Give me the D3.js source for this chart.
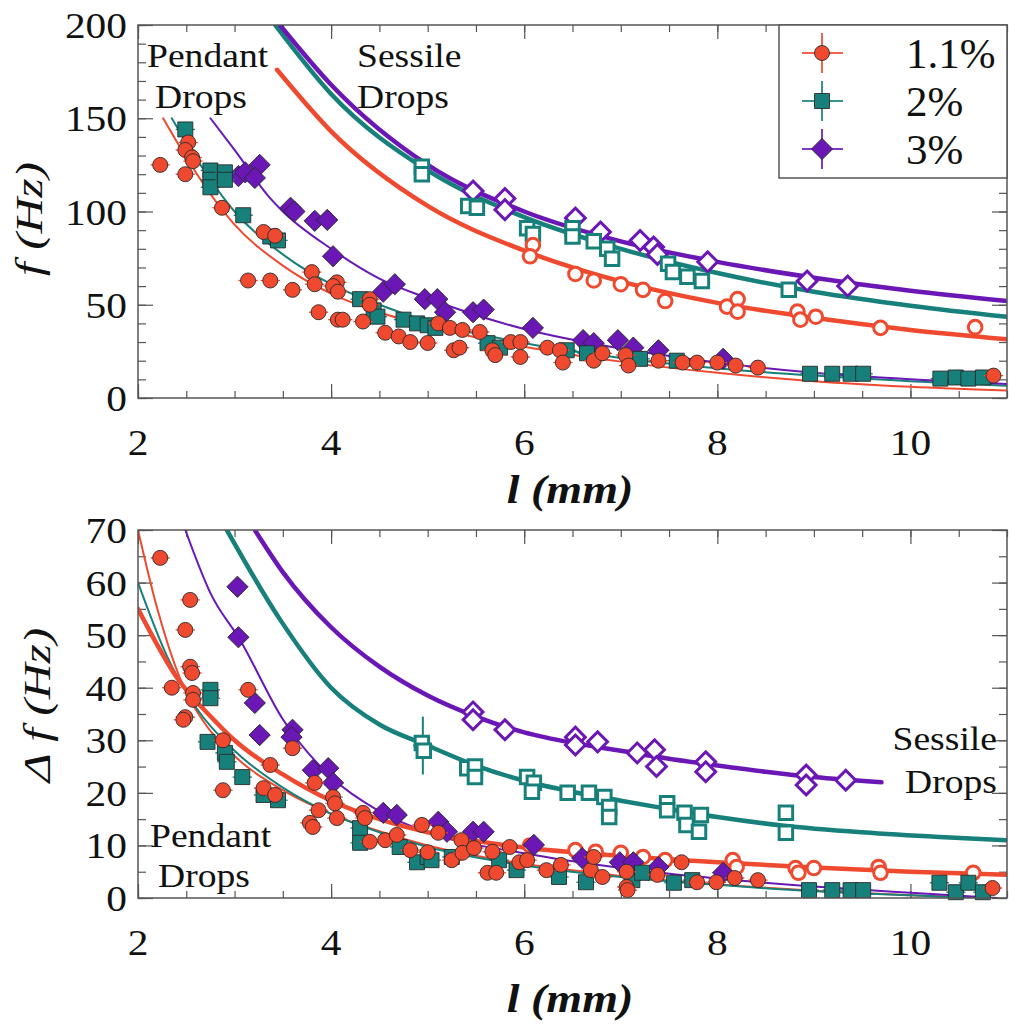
<!DOCTYPE html>
<html>
<head>
<meta charset="utf-8">
<script src="https://cdn.jsdelivr.net/npm/d3@7/dist/d3.min.js"></script>
<style>
body { margin: 0; background: #fff; }
</style>
</head>
<body>
<svg id="chart" width="1009" height="1027"></svg>
<script>
var RED = '#ef4a2f', TEAL = '#17807a', PURPLE = '#6a17b6';
var FONT = '"Liberation Serif", "Times New Roman", Times, serif';

var xTickLabels = [2, 4, 6, 8, 10];
var topTickLabels = [0, 50, 100, 150, 200];
var botTickLabels = [0, 10, 20, 30, 40, 50, 60, 70];
var legendLabels = ['1.1%', '2%', '3%'];

// ---- top panel: f (Hz) ----
var topRedPendant = [[2.23,125],[2.52,137],[2.49,133],[2.56,129],[2.57,127],[2.49,120],[2.87,102],[3.3,89],[3.42,87],[3.14,63],[3.37,63],[3.6,58],[3.8,67.5],[3.83,61],[4.06,62],[4.02,60],[4.07,57],[4.4,53],[4.4,50],[3.87,46],[4.07,42],[4.12,42],[4.33,41],[4.56,35],[4.7,33],[4.82,30],[5.0,29.5],[5.11,40],[5.23,37.6],[5.36,36.5],[5.54,35.4],[5.27,25.6],[5.33,27],[5.67,25.6],[5.7,23],[5.86,30],[5.96,30],[5.96,22],[6.24,27],[6.37,25.6],[6.4,19],[6.72,20],[6.81,24],[7.05,23],[7.08,17.4],[7.39,20],[7.64,19],[7.79,19],[8.0,19],[8.19,17.4],[8.42,16.3],[10.86,12]];
var topTealPendant = [[2.49,144],[2.75,122],[2.75,117],[2.75,113],[2.9,121],[2.9,117],[3.09,98],[3.37,86.6],[3.45,84.5],[4.3,53],[4.44,47],[4.48,43.6],[4.75,42],[4.89,40],[5.0,39],[5.08,37.6],[5.62,29.4],[5.75,27],[6.44,25.6],[6.65,24],[7.2,21],[7.58,20],[8.96,13],[9.19,13],[9.38,13],[9.51,13],[10.31,10.4],[10.47,11],[10.6,10.4],[10.75,11]];
var topPurplePendant = [[3.04,119],[3.11,121],[3.26,125],[3.21,118],[3.58,102],[3.62,100],[3.83,95],[3.96,95.5],[4.02,76],[4.54,57],[4.66,61],[4.97,53],[5.1,53],[5.18,46],[5.47,46],[5.58,47.4],[6.09,37.6],[6.61,31],[6.72,29.4],[6.97,31],[7.13,27],[7.39,25.6],[8.06,21]];
var topRedSessile = [[6.09,82],[6.06,76],[6.53,66.5],[6.72,63],[7.0,61],[7.23,58],[7.46,52],[8.1,49],[8.21,53],[8.21,46.3],[8.83,46.3],[8.86,42],[9.02,43.6],[9.69,37.6],[10.67,38]];
var topTealSessile = [[4.94,124],[4.94,120],[5.42,103],[5.51,102],[6.03,91],[6.09,88],[6.5,91],[6.5,86.6],[6.72,84],[6.86,80],[6.91,74.7],[7.49,72],[7.54,67.6],[7.69,65],[7.84,62.7],[8.74,58]];
var topPurpleSessile = [[5.47,111],[5.8,107],[5.8,101],[6.53,96.5],[6.79,89],[7.2,84.5],[7.34,81],[7.38,77],[7.9,73],[8.93,62.7],[9.35,60]];

var topFitRedPendant = [[2.26,150],[2.5,129],[3,93],[3.5,71],[4,56],[4.5,46],[5,38.5],[6,27.5],[7,19.5],[8,13.5],[9,9],[10,6],[11,4]];
var topFitTealPendant = [[2.35,150],[2.5,137],[3,100],[3.5,77],[4,61],[4.5,50],[5,41],[6,29.5],[7,21.5],[8,16],[9,12],[10,9],[11,6.5]];
var topFitPurplePendant = [[2.75,150],[3,133],[3.37,107],[3.5,100],[4,80],[4.5,64],[5,53.5],[6,37],[7,26.5],[8,19],[9,13.5],[10,10],[11,7.5]];
var topFitRedSessile = [[3.44,176],[4,143],[5,103],[6,79],[7,62.5],[8,51],[9,43],[10,36.5],[11,31.5]];
var topFitTealSessile = [[3.42,200],[4,163],[5,122],[6,97],[7,80],[8,67],[9,57],[10,49.5],[11,43.5]];
var topFitPurpleSessile = [[3.47,200],[4,168],[5,125],[6,100],[7,84],[8,73],[9,64.5],[10,57.5],[11,52]];

// ---- bottom panel: delta f (Hz) ----
var botRedPendant = [[2.23,64.7],[2.54,56.7],[2.49,51],[2.54,44],[2.56,42.8],[2.35,40],[2.57,39],[2.57,37.7],[3.14,39.6],[2.49,34.4],[2.47,33.9],[2.88,30],[2.88,20.5],[3.37,25.3],[3.3,20.9],[3.42,19.6],[3.6,28.5],[3.83,21.9],[3.78,14.3],[3.81,13.5],[3.87,16.7],[4.02,19.2],[4.04,18],[4.06,15.2],[4.33,16.2],[4.35,15.2],[4.4,10.7],[4.56,11],[4.68,12],[4.82,9.1],[4.94,13.9],[5.0,8.7],[5.11,12.4],[5.25,7.2],[5.35,11],[5.36,8.6],[5.48,9.5],[5.62,4.8],[5.67,8.8],[5.71,4.8],[5.85,9.7],[5.95,6.8],[6.03,7.2],[6.23,5.3],[6.38,6.3],[6.69,5.3],[6.72,7.8],[6.81,4],[7.06,5],[7.06,2.1],[7.07,1.5],[7.38,4.4],[7.63,6.8],[7.79,3],[7.99,3],[8.18,3.8],[8.42,3.4],[10.85,1.9]];
var botTealPendant = [[2.75,39.6],[2.75,38],[2.72,29.7],[2.9,27.6],[2.92,25.9],[3.08,23],[3.3,19.6],[3.45,18.6],[4.3,13.3],[4.3,10.5],[4.71,9.7],[4.89,6.8],[5.0,7.8],[5.04,7.2],[5.25,7.8],[5.74,7.2],[5.92,5.3],[6.36,4],[6.64,3],[7.12,3.4],[7.22,4.8],[7.55,2.9],[7.74,3.4],[8.95,1.5],[9.19,1.5],[9.38,1.5],[9.51,1.5],[10.3,2.9],[10.47,1.1],[10.6,2.9],[10.75,1.1]];
var botPurplePendant = [[3.03,59.2],[3.04,49.6],[3.21,37.1],[3.26,31],[3.6,32],[3.59,30.6],[3.81,24.3],[3.97,24.7],[4.02,21.9],[4.54,16.2],[4.68,15.8],[5.11,14.5],[5.2,12.6],[5.47,12.6],[5.58,12.6],[6.1,10.1],[6.6,7.6],[6.99,6.8],[7.13,6.8],[7.39,5.9],[8.06,4.8]];
var botRedSessile = [[6.06,10],[6.53,9.1],[6.74,8.8],[7.0,8.6],[7.23,7.8],[7.46,7.2],[8.16,7.2],[8.2,5.9],[8.81,5.7],[8.84,4.8],[9.0,5.7],[9.67,5.9],[9.69,4.8],[10.65,4.8]];
var botTealSessile = [[4.94,29.5],[4.96,28],[5.41,24.7],[5.49,25],[5.49,23],[6.03,23],[6.1,21.9],[6.08,20.2],[6.45,20],[6.67,20],[6.83,19.2],[6.88,17.3],[6.88,15.4],[7.48,18],[7.48,16.7],[7.66,16.2],[7.68,13.9],[7.83,15.8],[7.81,12.6],[8.71,16.2],[8.71,12.4]];
var botPurpleSessile = [[5.47,35.4],[5.47,33.9],[5.8,32],[6.53,30.6],[6.53,29.1],[6.76,29.7],[7.17,27.6],[7.35,28.2],[7.37,25],[7.88,25.9],[7.88,24],[8.92,23.4],[8.92,21.5],[9.33,22.4]];
var botErrPoint = [4.95, 29, 5.5];   // l, df, +/- err

var botFitRedPendant = [[2,70],[2.2,55],[2.43,42],[2.7,33],[3,27],[3.5,20.5],[4,16],[4.5,12.7],[5,10],[6,6.5],[7,4.2],[8,2.6],[9,1.4],[10,0.5],[10.7,0]];
var botFitTealPendant = [[2,60],[2.3,46],[2.61,36],[3,28],[3.5,21],[4,16],[4.5,12.5],[5,9.7],[6,6.2],[7,4],[8,2.5],[9,1.3],[10,0.5],[10.7,0]];
var botFitPurplePendant = [[2.49,70],[2.75,58],[3.06,49],[3.5,34],[4,23],[4.5,16.5],[5,12.5],[6,8.5],[7,5.7],[8,3.7],[9,2.2],[10,1],[10.9,0]];
var botFitRedSessile = [[2,55],[2.4,42],[2.78,34],[3,30],[3.5,23.5],[4,18.5],[4.5,15],[5,12.5],[6,9.6],[7,8],[8,6.8],[9,5.8],[10,5],[11,4.4]];
var botFitTealSessile = [[2.92,70],[3.47,53],[4,40],[4.5,33],[5,29],[5.5,25.2],[6,22.3],[6.5,20.2],[7,18.5],[7.5,16.9],[8,15.4],[8.67,13.8],[9.5,12.5],[10.3,11.6],[11,11]];
var botFitPurpleSessile = [[3.21,70],[3.5,62],[4,51.5],[4.5,44],[5,38.5],[5.5,34.5],[6,31.5],[6.5,29.5],[7,28],[7.5,26.5],[8,25.2],[8.5,24],[9,23],[9.7,22]];

var svg = d3.select('#chart').style('font-family', FONT);
var left = 138, right = 1007;
var x = d3.scaleLinear().domain([2, 11]).range([left, right]);

var panels = [
	{
		id: 'top', top: 25, bottom: 398, max: 200, minor: 10, labels: topTickLabels,
		title: 'f (Hz)', titleX: 30, titleY: 219, xTitleY: 503, xLabelY: 455,
		lines: [
			[topFitRedPendant, RED, 2], [topFitTealPendant, TEAL, 2], [topFitPurplePendant, PURPLE, 2],
			[topFitRedSessile, RED, 4.5], [topFitTealSessile, TEAL, 4.5], [topFitPurpleSessile, PURPLE, 4.5]
		],
		filled: [[topPurplePendant, 'diamond', PURPLE], [topTealPendant, 'square', TEAL], [topRedPendant, 'circle', RED]],
		open: [[topPurpleSessile, 'diamond', PURPLE], [topTealSessile, 'square', TEAL], [topRedSessile, 'circle', RED]]
	},
	{
		id: 'bot', top: 530, bottom: 898, max: 70, minor: 5, labels: botTickLabels,
		title: '\u0394 f (Hz)', titleX: 38, titleY: 705, xTitleY: 1012, xLabelY: 955,
		lines: [
			[botFitRedPendant, RED, 2], [botFitTealPendant, TEAL, 2], [botFitPurplePendant, PURPLE, 2],
			[botFitRedSessile, RED, 4.5], [botFitTealSessile, TEAL, 4.5], [botFitPurpleSessile, PURPLE, 4.5]
		],
		filled: [[botPurplePendant, 'diamond', PURPLE], [botTealPendant, 'square', TEAL], [botRedPendant, 'circle', RED]],
		open: [[botPurpleSessile, 'diamond', PURPLE], [botTealSessile, 'square', TEAL], [botRedSessile, 'circle', RED]]
	}
];

function addText(g, tx, ty, str, o) {
	o = o || {};
	var tr = 'translate(' + tx + ',' + ty + ')';
	if (o.rotate) tr += ' rotate(' + o.rotate + ')';
	tr += ' scale(' + (o.sx || 1) + ',1)';
	var t = g.append('text')
		.attr('transform', tr)
		.attr('text-anchor', o.anchor || 'start')
		.attr('font-family', FONT)
		.attr('fill', '#111')
		.style('font-family', FONT)
		.style('font-size', (o.size || 33) + 'px')
		.text(str);
	if (o.italic) t.style('font-style', 'italic');
	if (o.bold) t.style('font-weight', 'bold');
	return t;
}

function drawMarker(g, kind, color, filled, cx, cy) {
	var fill = filled ? color : '#fff',
		stroke = filled ? '#2a2a2a' : color,
		sw = filled ? 0.9 : 3;
	if (kind === 'circle') {
		g.append('circle').attr('cx', cx).attr('cy', cy).attr('r', filled ? 7.5 : 6.8)
			.attr('fill', fill).attr('stroke', stroke).attr('stroke-width', sw);
	} else if (kind === 'square') {
		var s = filled ? 15 : 13.5;
		g.append('path')
			.attr('d', d3.symbol().type(d3.symbolSquare).size(s * s)())
			.attr('transform', 'translate(' + cx + ',' + cy + ')')
			.attr('fill', fill).attr('stroke', stroke).attr('stroke-width', sw);
	} else {
		var d = filled ? 15 : 14;
		g.append('path')
			.attr('d', d3.symbol().type(d3.symbolSquare).size(d * d)())
			.attr('transform', 'translate(' + cx + ',' + cy + ') rotate(45)')
			.attr('fill', fill).attr('stroke', stroke).attr('stroke-width', sw);
	}
}

panels.forEach(function (p) {
	var y = d3.scaleLinear().domain([0, p.max]).range([p.bottom, p.top]);
	var g = svg.append('g').attr('class', 'panel-' + p.id);

	g.append('clipPath').attr('id', 'clip-' + p.id)
		.append('rect').attr('x', left).attr('y', p.top)
		.attr('width', right - left).attr('height', p.bottom - p.top);

	// ticks, all pointing inward
	var xMinor = d3.range(2, 11.01, 0.5);
	var yMinor = d3.range(0, p.max + 0.01, p.minor);
	var axes = g.append('g').attr('class', 'axes');
	function tickAxis(axis, tr) {
		var a = axes.append('g').attr('transform', tr).call(axis);
		a.select('.domain').remove();
		a.selectAll('line').attr('stroke', '#555').attr('stroke-width', 1.2);
		a.selectAll('text').remove();
	}
	tickAxis(d3.axisBottom(x).tickValues(xMinor).tickSize(-7), 'translate(0,' + p.bottom + ')');
	tickAxis(d3.axisBottom(x).tickValues(xTickLabels).tickSize(-14), 'translate(0,' + p.bottom + ')');
	tickAxis(d3.axisTop(x).tickValues(xMinor).tickSize(-7), 'translate(0,' + p.top + ')');
	tickAxis(d3.axisTop(x).tickValues(xTickLabels).tickSize(-14), 'translate(0,' + p.top + ')');
	tickAxis(d3.axisLeft(y).tickValues(yMinor).tickSize(-8), 'translate(' + left + ',0)');
	tickAxis(d3.axisLeft(y).tickValues(p.labels).tickSize(-15), 'translate(' + left + ',0)');
	tickAxis(d3.axisRight(y).tickValues(yMinor).tickSize(-8), 'translate(' + right + ',0)');
	tickAxis(d3.axisRight(y).tickValues(p.labels).tickSize(-15), 'translate(' + right + ',0)');

	// fit lines
	var lineGen = d3.line()
		.x(function (d) { return x(d[0]); })
		.y(function (d) { return y(d[1]); })
		.curve(d3.curveMonotoneX);
	var lg = g.append('g').attr('clip-path', 'url(#clip-' + p.id + ')');
	p.lines.forEach(function (l) {
		lg.append('path').datum(l[0])
			.attr('d', lineGen)
			.attr('fill', 'none')
			.attr('stroke', l[1])
			.attr('stroke-width', l[2])
			.attr('stroke-linecap', 'round');
	});

	// error bar on the sessile 2% point
	if (p.id === 'bot') {
		var eb = g.append('g').attr('stroke', TEAL).attr('stroke-width', 2);
		eb.append('line').attr('x1', x(botErrPoint[0])).attr('x2', x(botErrPoint[0]))
			.attr('y1', y(botErrPoint[1] - botErrPoint[2])).attr('y2', y(botErrPoint[1] + botErrPoint[2]));
		eb.append('line').attr('x1', x(botErrPoint[0] - 0.1)).attr('x2', x(botErrPoint[0] + 0.1))
			.attr('y1', y(botErrPoint[1])).attr('y2', y(botErrPoint[1]));
	}

	// sessile (open) markers
	var mg = g.append('g');
	p.open.forEach(function (s) {
		s[0].forEach(function (d) { drawMarker(mg, s[1], s[2], false, x(d[0]), y(d[1])); });
	});
	// pendant (filled) markers with small horizontal error bars
	p.filled.forEach(function (s) {
		s[0].forEach(function (d) {
			mg.append('line')
				.attr('x1', x(d[0] - 0.1)).attr('x2', x(d[0] + 0.1))
				.attr('y1', y(d[1])).attr('y2', y(d[1]))
				.attr('stroke', s[2]).attr('stroke-width', 1.3);
			drawMarker(mg, s[1], s[2], true, x(d[0]), y(d[1]));
		});
	});

	// frame
	g.append('rect').attr('x', left).attr('y', p.top)
		.attr('width', right - left).attr('height', p.bottom - p.top)
		.attr('fill', 'none').attr('stroke', '#555').attr('stroke-width', 1.5);

	// tick labels
	xTickLabels.forEach(function (v) {
		addText(g, x(v), p.xLabelY, v, { anchor: 'middle', size: 36, sx: 1.15 });
	});
	p.labels.forEach(function (v) {
		addText(g, 127, y(v) + 13, v, { anchor: 'end', size: 36, sx: 1.15 });
	});

	// axis titles
	addText(g, 570, p.xTitleY, 'l (mm)', { anchor: 'middle', size: 40, sx: 1.15, italic: true, bold: true });
	addText(g, p.titleX + 12, p.titleY, p.title, { anchor: 'middle', size: 38, sx: 1.3, italic: true, rotate: -90 });
});

// annotations
var ann = svg.append('g');
addText(ann, 147, 67, 'Pendant', { size: 33, sx: 1.14 });
addText(ann, 155, 108, 'Drops', { size: 33, sx: 1.14 });
addText(ann, 357, 67, 'Sessile', { size: 33, sx: 1.14 });
addText(ann, 357, 108, 'Drops', { size: 33, sx: 1.14 });
addText(ann, 150, 847, 'Pendant', { size: 33, sx: 1.14 });
addText(ann, 158, 887, 'Drops', { size: 33, sx: 1.14 });
addText(ann, 997, 750, 'Sessile', { size: 33, sx: 1.14, anchor: 'end' });
addText(ann, 997, 793, 'Drops', { size: 33, sx: 1.14, anchor: 'end' });

// legend
var legend = svg.append('g');
legend.append('rect').attr('x', 779).attr('y', 25).attr('width', right - 779).attr('height', 153)
	.attr('fill', '#fff').attr('stroke', '#555').attr('stroke-width', 1.5);
var legendRows = [[RED, 'circle', 53], [TEAL, 'square', 101], [PURPLE, 'diamond', 149]];
legendRows.forEach(function (r, i) {
	var lg = legend.append('g').attr('stroke', r[0]).attr('stroke-width', 2).attr('opacity', 0.85);
	lg.append('line').attr('x1', 802).attr('x2', 843).attr('y1', r[2]).attr('y2', r[2]);
	lg.append('line').attr('x1', 822).attr('x2', 822).attr('y1', r[2] - 20).attr('y2', r[2] + 20);
	drawMarker(legend, r[1], r[0], true, 822, r[2]);
	addText(legend, 906, r[2] + 15, legendLabels[i], { size: 43 });
});
</script>
</body>
</html>
